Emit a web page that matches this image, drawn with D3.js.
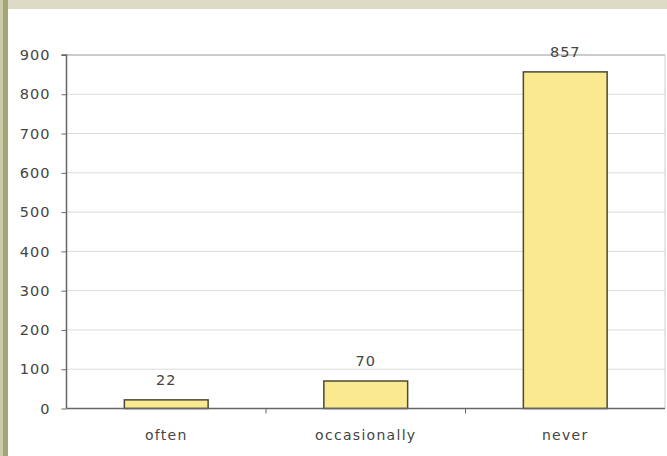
<!DOCTYPE html>
<html><head><meta charset="utf-8">
<script src="https://cdn.jsdelivr.net/npm/d3@7"></script>
<style>body{margin:0;background:#fff}svg{display:block}</style>
</head><body>
<svg id="c" width="667" height="456"></svg>
<script>
const categories = ["often", "occasionally", "never"];
const values = [22, 70, 857];
const yTicks = [0, 100, 200, 300, 400, 500, 600, 700, 800, 900];

const svg = d3.select("#c");
const W = 667, H = 456;
const FONT = "DejaVu Sans, Verdana, sans-serif";
// frame decoration
svg.append("rect").attr("x",0).attr("y",0).attr("width",W).attr("height",H).attr("fill","#fff");
svg.append("rect").attr("x",8).attr("y",0).attr("width",W-8).attr("height",9).attr("fill","#dcdcc6");
svg.append("rect").attr("x",0).attr("y",0).attr("width",3).attr("height",H).attr("fill","#c9caa9");
svg.append("rect").attr("x",3).attr("y",0).attr("width",5).attr("height",H).attr("fill","#a3a574");

const pL = 66.5, pR = 665, pT = 55, pB = 408.5;
const x = d3.scaleBand().domain(categories).range([pL, pR]).paddingInner(0).paddingOuter(0);
const y = d3.scaleLinear().domain([0, 900]).range([pB, pT]);

// gridlines
svg.append("g").selectAll("line").data(yTicks.filter(d=>d>0)).join("line")
  .attr("x1", pL).attr("x2", pR).attr("y1", d=>y(d)).attr("y2", d=>y(d))
  .attr("stroke", d => d===900 ? "#999" : "#dcdcdc").attr("stroke-width", 1);
// right border
svg.append("line").attr("x1", pR).attr("x2", pR).attr("y1", pT).attr("y2", pB)
  .attr("stroke", "#cfcfcf");

const bw = x.bandwidth() * 0.42;
svg.append("g").selectAll("rect").data(values).join("rect")
  .attr("x", (d,i) => x(categories[i]) + x.bandwidth()/2 - bw/2)
  .attr("y", d => y(d))
  .attr("width", bw)
  .attr("height", d => pB - y(d))
  .attr("fill", "#fbe98f").attr("stroke", "#4a4a38").attr("stroke-width", 1.5);

// value labels
svg.append("g").selectAll("text").data(values).join("text")
  .attr("x", (d,i) => x(categories[i]) + x.bandwidth()/2)
  .attr("y", d => y(d) - 15)
  .attr("text-anchor", "middle")
  .attr("font-family", FONT).attr("font-size", 14.5).attr("letter-spacing", 1)
  .attr("fill", "#444").text(d => d);

// y axis
const yAxis = d3.axisLeft(y).tickValues(yTicks).tickSize(5).tickPadding(11);
const gy = svg.append("g").attr("transform", `translate(${pL},0)`).call(yAxis);
gy.select(".domain").attr("stroke", "#666").attr("stroke-width", 1.5).attr("d", `M-5,${pT}H0V${pB}`);
gy.selectAll(".tick line").attr("stroke", "#666");
gy.selectAll(".tick text").attr("font-family", FONT)
  .attr("font-size", 14.5).attr("letter-spacing", 1).attr("fill", "#444");

// x axis
const xAxis = d3.axisBottom(x).tickSize(0).tickPadding(22);
const gx = svg.append("g").attr("transform", `translate(0,${pB})`).call(xAxis);
gx.select(".domain").attr("stroke", "#666").attr("stroke-width", 1.5).attr("d", `M${pL},0H${pR}`);
gx.selectAll(".tick text").attr("font-family", FONT)
  .attr("font-size", 14).attr("letter-spacing", 1.3).attr("fill", "#444");
// category separator ticks
svg.append("g").selectAll("line").data(categories.slice(1)).join("line")
  .attr("x1", d => x(d)).attr("x2", d => x(d)).attr("y1", pB).attr("y2", pB+5)
  .attr("stroke", "#666");
</script>
</body></html>
